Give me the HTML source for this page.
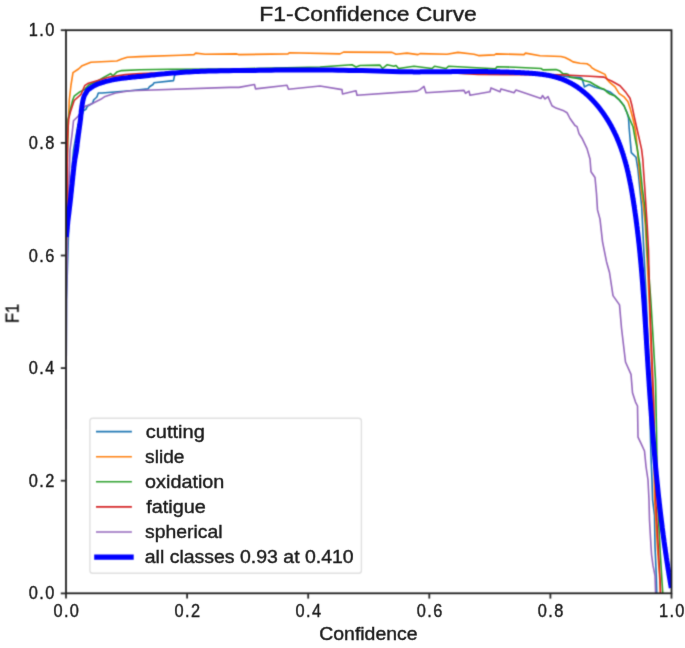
<!DOCTYPE html>
<html><head><meta charset="utf-8"><style>
html,body{margin:0;padding:0;background:#fff;width:685px;height:648px;overflow:hidden}
svg{display:block}
text{font-family:"Liberation Sans",sans-serif;fill:#1a1a1a;stroke:#1a1a1a;stroke-width:0.4px}
</style></head><body>
<svg width="685" height="648" viewBox="0 0 685 648">
<defs><filter id="bl" x="0" y="0" width="685" height="648" filterUnits="userSpaceOnUse" color-interpolation-filters="sRGB"><feConvolveMatrix order="3" kernelMatrix="0.02768 0.11101 0.02768 0.11101 0.44521 0.11101 0.02768 0.11101 0.02768" divisor="1" edgeMode="duplicate" preserveAlpha="false"/></filter><filter id="bt" x="0" y="0" width="685" height="648" filterUnits="userSpaceOnUse" color-interpolation-filters="sRGB"><feConvolveMatrix order="3" kernelMatrix="0.00276 0.04704 0.00276 0.04704 0.80077 0.04704 0.00276 0.04704 0.00276" divisor="1" edgeMode="none" preserveAlpha="false"/></filter><clipPath id="c"><rect x="66.0" y="30.2" width="605.5" height="563.1"/></clipPath></defs>
<g filter="url(#bl)">
<rect x="0" y="0" width="685" height="648" fill="#fff"/>
<g clip-path="url(#c)">
<polyline points="65.9,429.0 66.5,300.0 69.5,200.0 73.5,150.0 78.0,125.0 83.5,110.8 85.9,109.3 87.4,106.2 92.8,103.0 93.6,100.0 95.8,98.0 97.0,96.8 98.3,93.0 102.0,93.0 130.0,90.8 148.0,88.9 149.5,86.7 153.0,84.5 154.0,82.8 173.5,80.6 174.5,75.8 176.0,72.8 230.0,71.2 300.0,70.5 420.0,71.8 465.0,73.5 500.0,72.5 540.0,74.0 560.0,75.5 570.0,77.1 580.0,77.6 582.0,78.5 584.5,86.9 589.0,84.5 595.0,87.3 603.0,89.2 610.0,91.9 615.0,95.8 619.0,99.6 624.0,105.8 627.0,112.8 628.5,118.0 629.2,128.5 631.3,152.6 636.0,157.2 638.0,170.0 639.8,188.5 641.7,207.0 642.9,231.7 643.8,250.0 646.3,300.0 648.3,350.0 649.5,380.0 650.0,418.6 651.0,457.2 652.0,480.0 652.6,500.0 654.5,515.4 655.0,546.3 656.3,575.8 656.8,593.5" stroke="#1f77b4" stroke-width="1.6" fill="none" stroke-linejoin="round"/>
<polyline points="66.2,200.0 67.3,150.0 69.3,100.0 71.0,85.0 73.0,72.7 78.5,69.0 82.2,65.7 90.9,62.2 116.8,61.0 121.7,59.1 127.3,57.3 140.0,56.6 180.5,55.2 194.0,54.6 195.7,53.1 205.0,54.2 236.7,53.9 238.5,54.6 288.0,53.9 289.5,52.7 340.0,53.9 343.5,52.1 392.0,52.4 396.0,54.3 407.0,53.1 418.0,54.6 420.0,53.6 447.0,54.2 458.0,52.4 474.0,54.3 478.5,55.6 494.5,54.9 496.0,53.9 524.0,54.6 525.5,53.1 540.0,55.8 561.0,56.5 565.0,57.5 570.0,60.0 573.0,61.9 580.0,63.2 587.0,63.7 590.0,65.6 592.0,67.9 595.0,69.7 600.0,72.0 605.0,74.4 606.0,76.7 607.0,79.4 610.0,82.7 615.0,86.9 619.0,93.3 624.0,96.8 628.0,101.7 630.0,107.9 632.5,117.0 634.5,125.3 636.0,135.0 637.5,150.0 638.0,156.3 639.2,170.0 641.0,188.5 643.5,207.0 645.4,225.6 646.6,250.0 649.2,300.0 651.5,360.0 653.0,400.0 653.8,450.0 654.6,500.0 657.6,550.0 659.8,580.0 660.3,593.5" stroke="#ff7f0e" stroke-width="1.6" fill="none" stroke-linejoin="round"/>
<polyline points="66.2,220.0 68.0,120.0 69.3,114.0 72.7,100.0 74.2,96.2 79.8,91.9 84.7,89.4 89.6,84.4 97.0,81.4 103.2,77.7 110.6,73.6 113.0,75.8 116.8,72.1 121.7,70.6 140.0,69.8 170.0,69.2 230.0,69.0 320.0,67.0 352.0,64.8 356.0,67.0 360.0,65.5 380.0,65.1 382.5,68.5 387.0,64.8 394.0,66.3 396.0,65.5 398.5,68.5 414.0,66.3 432.0,68.5 434.5,66.3 446.0,68.5 448.5,66.3 495.5,68.8 497.0,66.7 515.0,67.2 541.0,68.5 543.0,69.9 556.0,69.6 560.0,71.1 563.0,73.9 566.0,73.9 568.0,74.3 570.0,77.1 575.0,78.0 580.0,79.0 585.0,80.8 590.0,82.0 595.0,85.0 600.0,87.8 604.0,89.2 607.0,92.0 610.0,94.0 615.0,96.1 619.0,99.6 624.0,105.8 627.0,112.8 630.0,119.7 633.0,126.7 635.0,137.8 637.0,147.5 639.8,164.2 640.4,170.0 642.3,188.5 644.8,207.0 646.0,225.6 647.2,250.0 651.0,303.3 653.5,345.0 655.5,380.0 656.5,431.0 657.5,500.0 660.1,550.0 661.9,580.0 662.8,593.5" stroke="#2ca02c" stroke-width="1.6" fill="none" stroke-linejoin="round"/>
<polyline points="66.0,240.0 67.4,200.0 67.4,140.0 68.6,119.0 70.4,112.0 74.2,100.5 81.0,94.3 84.7,85.7 88.4,83.2 97.0,80.7 109.4,77.0 125.4,74.6 140.0,73.6 225.0,70.6 300.0,70.0 420.0,71.0 478.0,74.5 505.0,74.8 540.0,74.5 560.0,74.8 590.0,76.2 604.0,77.1 608.0,79.4 612.0,81.3 620.0,85.7 626.0,92.6 630.0,98.2 632.0,105.8 634.0,115.6 636.5,126.7 639.0,137.8 641.6,149.4 642.8,159.3 643.5,170.0 644.8,188.5 646.0,207.0 647.2,225.6 648.5,250.0 649.6,300.0 652.0,359.0 653.7,400.0 654.8,450.0 655.8,500.0 658.4,550.0 660.1,580.0 660.6,593.5" stroke="#d62728" stroke-width="1.6" fill="none" stroke-linejoin="round"/>
<polyline points="65.9,429.0 66.5,300.0 67.5,236.0 70.0,150.0 72.0,134.7 73.5,120.8 78.1,116.2 85.1,106.2 90.9,104.2 100.7,99.3 104.4,96.8 115.6,93.0 130.0,90.8 230.0,87.4 239.0,87.4 254.5,84.5 255.5,88.9 287.0,85.3 288.5,89.3 320.0,86.0 342.0,89.6 342.5,94.0 356.0,90.8 357.0,95.2 417.0,91.1 420.0,89.6 424.0,86.4 426.0,92.8 464.0,90.4 465.5,93.3 469.0,91.1 470.0,95.2 490.0,91.8 491.0,87.9 500.0,91.8 501.0,88.9 514.0,92.8 516.0,90.1 541.0,98.5 542.5,95.5 545.0,99.0 548.0,96.6 552.0,105.8 556.0,108.1 563.0,110.4 567.0,112.7 570.0,118.5 575.0,125.5 577.0,126.6 579.0,133.6 582.0,138.2 587.0,148.6 590.0,159.0 591.0,171.7 595.0,177.5 596.5,193.7 597.5,209.9 600.0,219.1 602.5,241.6 606.5,261.7 609.5,272.5 613.0,295.6 619.5,304.9 621.5,328.0 625.5,362.0 631.0,374.3 632.5,392.8 635.5,402.1 637.5,406.0 638.0,437.1 641.0,443.3 644.5,451.0 646.0,466.5 648.0,480.0 649.0,500.0 649.5,520.0 651.0,546.3 651.6,555.0 653.0,565.4 655.0,575.8 655.6,593.5" stroke="#9467bd" stroke-width="1.6" fill="none" stroke-linejoin="round"/>
<polyline points="66.3,237.0 66.4,236.2 66.5,235.2 66.6,234.0 66.7,232.7 66.9,231.3 67.0,229.8 67.2,228.2 67.3,226.5 67.5,224.9 67.7,223.2 67.8,221.6 68.0,220.0 68.2,218.4 68.4,216.8 68.6,215.2 68.8,213.6 69.0,211.9 69.2,210.2 69.4,208.5 69.6,206.8 69.8,205.1 70.0,203.4 70.2,201.7 70.4,200.0 70.6,198.3 70.8,196.6 70.9,195.0 71.1,193.3 71.3,191.6 71.5,189.9 71.6,188.2 71.8,186.5 72.0,184.9 72.2,183.2 72.3,181.6 72.5,180.0 72.7,178.4 72.8,176.8 73.0,175.2 73.2,173.6 73.3,172.1 73.5,170.5 73.7,169.0 73.8,167.5 74.0,166.0 74.2,164.6 74.3,163.3 74.5,162.0 74.7,160.8 74.8,159.6 75.0,158.5 75.2,157.5 75.4,156.5 75.5,155.5 75.7,154.6 75.9,153.6 76.1,152.7 76.2,151.8 76.4,150.9 76.5,150.0 76.6,149.1 76.7,148.3 76.8,147.6 76.9,146.9 77.0,146.2 77.1,145.5 77.1,144.8 77.2,144.0 77.3,143.2 77.4,142.2 77.6,141.2 77.7,140.0 77.9,138.7 78.1,137.2 78.3,135.5 78.5,133.8 78.8,132.0 79.0,130.2 79.3,128.3 79.5,126.5 79.8,124.7 80.0,123.0 80.2,121.5 80.4,120.0 80.6,118.7 80.7,117.4 80.8,116.2 80.9,115.0 81.1,113.9 81.2,112.8 81.2,111.8 81.3,110.8 81.4,109.8 81.6,108.9 81.7,107.9 81.8,107.0 81.9,106.1 82.1,105.2 82.2,104.3 82.4,103.4 82.5,102.6 82.7,101.8 82.8,101.0 83.0,100.2 83.2,99.5 83.3,98.8 83.5,98.1 83.7,97.5 83.9,96.9 84.1,96.4 84.3,95.9 84.5,95.4 84.7,95.0 84.9,94.6 85.1,94.2 85.4,93.9 85.6,93.5 85.8,93.2 86.0,92.8 86.2,92.5 86.4,92.2 86.5,91.9 86.7,91.6 86.8,91.4 86.9,91.2 87.0,91.0 87.2,90.7 87.4,90.5 87.6,90.3 87.9,90.0 88.2,89.7 88.6,89.4 89.1,89.0 89.6,88.7 90.2,88.3 90.8,87.8 91.5,87.4 92.2,86.9 92.9,86.5 93.7,86.0 94.5,85.6 95.3,85.2 96.1,84.8 97.0,84.4 97.9,84.0 98.8,83.7 99.8,83.3 100.8,83.0 101.9,82.7 103.0,82.3 104.0,82.0 105.1,81.7 106.2,81.4 107.3,81.1 108.4,80.9 109.4,80.6 110.4,80.4 111.4,80.1 112.3,79.9 113.3,79.7 114.2,79.6 115.2,79.4 116.2,79.2 117.2,79.1 118.2,78.9 119.3,78.7 120.5,78.6 121.7,78.4 123.0,78.2 124.3,78.1 125.6,77.9 126.9,77.8 128.3,77.6 129.7,77.5 131.2,77.3 132.8,77.1 134.5,77.0 136.2,76.8 138.0,76.6 140.0,76.4 142.1,76.2 144.3,75.9 146.6,75.7 148.9,75.4 151.4,75.1 154.0,74.9 156.6,74.6 159.2,74.3 161.9,74.0 164.6,73.8 167.3,73.5 170.0,73.3 172.7,73.1 175.4,72.9 178.0,72.7 180.7,72.5 183.5,72.3 186.2,72.1 189.1,71.9 192.0,71.8 195.1,71.6 198.2,71.5 201.5,71.3 205.0,71.2 208.6,71.1 212.5,71.0 216.4,70.9 220.6,70.8 224.8,70.8 229.1,70.7 233.4,70.6 237.8,70.6 242.1,70.5 246.5,70.5 250.8,70.5 255.0,70.4 259.1,70.3 263.2,70.3 267.3,70.2 271.3,70.2 275.3,70.1 279.4,70.1 283.5,70.0 287.6,70.0 291.8,69.9 296.1,69.9 300.5,69.9 305.0,69.9 309.8,69.9 315.1,70.0 320.7,70.0 326.5,70.1 332.3,70.1 338.1,70.2 343.7,70.3 349.1,70.4 354.0,70.4 358.4,70.5 362.1,70.6 400.3,71.8 400.8,71.8 401.3,71.8 401.8,71.8 402.2,71.8 402.7,71.8 403.2,71.8 403.7,71.8 404.2,71.8 404.7,71.8 405.2,71.8 405.7,71.8 406.2,71.8 406.6,71.8 407.1,71.8 407.6,71.8 408.1,71.8 408.6,71.8 409.1,71.8 409.6,71.8 410.1,71.8 410.6,71.8 411.0,71.8 411.5,71.8 412.0,71.8 412.5,71.8 413.0,71.9 413.5,71.9 414.0,71.9 414.5,71.9 415.0,71.9 415.4,71.9 415.9,71.9 416.4,71.9 416.9,71.9 417.4,71.9 417.9,71.9 418.4,71.9 418.9,71.9 419.4,71.9 419.8,71.9 420.3,71.9 420.8,71.8 421.3,71.8 421.8,71.8 422.3,71.8 422.8,71.8 423.3,71.8 423.8,71.8 424.2,71.8 424.7,71.8 425.2,71.8 425.7,71.8 426.2,71.8 426.7,71.8 427.2,71.8 427.7,71.8 428.2,71.8 428.6,71.8 429.1,71.8 429.6,71.8 430.1,71.8 430.6,71.8 431.1,71.8 431.6,71.8 432.1,71.8 432.6,71.8 433.0,71.8 433.5,71.8 434.0,71.8 434.5,71.8 435.0,71.8 435.5,71.8 436.0,71.8 436.5,71.8 437.0,71.8 437.4,71.8 437.9,71.8 438.4,71.8 438.9,71.7 439.4,71.7 439.9,71.7 440.4,71.7 440.9,71.7 441.4,71.7 441.8,71.7 442.3,71.7 442.8,71.7 443.3,71.7 443.8,71.7 444.3,71.7 444.8,71.7 445.3,71.7 445.8,71.7 446.3,71.7 446.7,71.7 447.2,71.7 447.7,71.7 448.2,71.7 448.7,71.7 449.2,71.7 449.7,71.7 450.2,71.7 450.7,71.7 451.1,71.7 451.6,71.6 452.1,71.6 452.6,71.6 453.1,71.6 453.6,71.6 454.1,71.6 454.6,71.6 455.1,71.6 455.5,71.6 456.0,71.6 456.5,71.6 457.0,71.6 457.5,71.6 458.0,71.6 458.5,71.6 459.0,71.6 459.5,71.6 460.0,71.6 460.4,71.6 460.9,71.6 461.4,71.6 461.9,71.6 462.4,71.6 462.9,71.6 463.4,71.6 463.9,71.6 464.4,71.6 464.9,71.6 465.3,71.6 465.8,71.6 466.3,71.6 466.8,71.6 467.3,71.6 467.8,71.6 468.3,71.6 468.8,71.6 469.3,71.6 469.8,71.6 470.3,71.6 470.7,71.6 471.2,71.6 471.7,71.6 472.2,71.6 472.7,71.6 473.2,71.6 473.7,71.6 474.2,71.6 474.7,71.6 475.2,71.6 475.6,71.6 476.1,71.6 476.6,71.6 477.1,71.6 477.6,71.6 478.1,71.6 478.6,71.6 479.1,71.6 479.6,71.6 480.1,71.6 480.6,71.6 481.1,71.6 481.5,71.6 482.0,71.6 482.5,71.6 483.0,71.6 483.5,71.6 484.0,71.6 484.5,71.6 485.0,71.6 485.5,71.6 486.0,71.6 486.5,71.6 487.0,71.6 487.4,71.6 487.9,71.6 488.4,71.7 488.9,71.7 489.4,71.7 489.9,71.7 490.4,71.7 490.9,71.7 491.4,71.7 491.9,71.7 492.4,71.7 492.9,71.7 493.4,71.7 493.8,71.7 494.3,71.7 494.8,71.8 495.3,71.8 495.8,71.8 496.3,71.8 496.8,71.8 497.3,71.8 497.8,71.8 498.3,71.8 498.8,71.8 499.3,71.8 499.8,71.9 500.3,71.9 500.7,71.9 501.2,71.9 501.7,71.9 502.2,71.9 502.7,71.9 503.2,71.9 503.7,72.0 504.2,72.0 504.7,72.0 505.2,72.0 505.7,72.0 506.2,72.0 506.7,72.1 507.2,72.1 507.7,72.1 508.2,72.1 508.6,72.1 509.1,72.1 509.6,72.2 510.1,72.2 510.6,72.2 511.1,72.2 511.6,72.2 512.1,72.2 512.6,72.3 513.1,72.3 513.6,72.3 514.1,72.3 514.6,72.4 515.1,72.4 515.6,72.4 516.1,72.4 516.6,72.4 517.1,72.5 517.6,72.5 518.1,72.5 518.6,72.5 519.0,72.6 519.5,72.6 520.0,72.6 520.5,72.6 521.0,72.7 521.5,72.7 522.0,72.7 522.5,72.7 523.0,72.8 523.5,72.8 524.0,72.8 524.5,72.9 525.0,72.9 525.5,72.9 526.0,72.9 526.5,73.0 527.0,73.0 527.5,73.0 528.0,73.1 528.5,73.1 529.0,73.1 529.5,73.2 530.0,73.2 530.5,73.2 531.0,73.3 531.5,73.3 532.0,73.3 532.4,73.4 532.9,73.4 533.4,73.5 533.9,73.5 534.4,73.5 534.9,73.6 535.4,73.6 535.9,73.7 536.4,73.7 536.9,73.8 537.4,73.8 537.9,73.9 538.4,73.9 538.9,74.0 539.4,74.0 539.9,74.1 540.3,74.2 540.8,74.2 541.3,74.3 541.8,74.3 542.3,74.4 542.8,74.5 543.3,74.5 543.8,74.6 544.2,74.7 544.7,74.8 545.2,74.8 545.7,74.9 546.2,75.0 546.7,75.1 547.1,75.2 547.6,75.2 548.1,75.3 548.6,75.4 549.1,75.5 549.5,75.6 550.0,75.7 550.5,75.8 551.0,75.9 551.4,76.0 551.9,76.1 552.4,76.2 552.9,76.3 553.3,76.5 553.8,76.6 554.3,76.7 554.7,76.8 555.2,76.9 555.7,77.1 556.1,77.2 556.6,77.3 557.0,77.5 557.5,77.6 558.0,77.7 558.4,77.9 558.9,78.0 559.3,78.2 559.8,78.3 560.2,78.5 560.7,78.6 561.1,78.8 561.6,79.0 562.0,79.1 562.5,79.3 562.9,79.5 563.4,79.7 563.8,79.8 564.2,80.0 564.7,80.2 565.1,80.4 565.6,80.6 566.0,80.8 566.4,81.0 566.9,81.2 567.3,81.4 567.7,81.6 568.1,81.8 568.6,82.0 569.0,82.2 569.4,82.4 569.8,82.7 570.3,82.9 570.7,83.1 571.1,83.3 571.5,83.6 571.9,83.8 572.4,84.0 572.8,84.3 573.2,84.5 573.6,84.8 574.0,85.0 574.4,85.3 574.8,85.5 575.2,85.8 575.6,86.0 576.0,86.3 576.4,86.5 576.8,86.8 577.2,87.1 577.6,87.3 578.0,87.6 578.4,87.9 578.8,88.2 579.2,88.4 579.6,88.7 580.0,89.0 580.4,89.3 580.7,89.6 581.1,89.9 581.5,90.2 581.9,90.5 582.3,90.8 582.7,91.1 583.0,91.4 583.4,91.7 583.8,92.0 584.2,92.3 584.5,92.6 584.9,92.9 585.3,93.2 585.6,93.5 586.0,93.9 586.4,94.2 586.7,94.5 587.1,94.8 587.4,95.1 587.8,95.5 588.2,95.8 588.5,96.1 588.9,96.5 589.2,96.8 589.6,97.2 589.9,97.5 590.3,97.8 590.6,98.2 591.0,98.5 591.3,98.9 591.6,99.2 592.0,99.6 592.3,99.9 592.7,100.3 593.0,100.6 593.3,101.0 593.7,101.4 594.0,101.7 594.3,102.1 594.7,102.4 595.0,102.8 595.3,103.2 595.6,103.6 596.0,103.9 596.3,104.3 596.6,104.7 596.9,105.1 597.2,105.4 597.6,105.8 597.9,106.2 598.2,106.6 598.5,107.0 598.8,107.3 599.1,107.7 599.4,108.1 599.7,108.5 600.0,108.9 600.3,109.3 600.6,109.7 600.9,110.1 601.2,110.5 601.5,110.9 601.8,111.3 602.1,111.7 602.4,112.1 602.7,112.5 603.0,112.9 603.3,113.3 603.5,113.7 603.8,114.1 604.1,114.5 604.4,114.9 604.7,115.3 604.9,115.8 605.2,116.2 605.5,116.6 605.8,117.0 606.0,117.4 606.3,117.8 606.6,118.2 606.8,118.7 607.1,119.1 607.4,119.5 607.6,119.9 607.9,120.4 608.1,120.8 608.4,121.2 608.7,121.6 608.9,122.1 609.2,122.5 609.4,122.9 609.7,123.4 609.9,123.8 610.2,124.2 610.4,124.6 610.6,125.1 610.9,125.5 611.1,125.9 611.4,126.4 611.6,126.8 611.8,127.3 612.1,127.7 612.3,128.1 612.5,128.6 612.7,129.0 613.0,129.4 613.2,129.9 613.4,130.3 613.6,130.8 613.9,131.2 614.1,131.7 614.3,132.1 614.5,132.5 614.7,133.0 614.9,133.4 615.1,133.9 615.4,134.3 615.6,134.8 615.8,135.2 616.0,135.7 616.2,136.1 616.4,136.6 616.6,137.0 616.8,137.5 617.0,137.9 617.2,138.4 617.4,138.8 617.5,139.3 617.7,139.7 617.9,140.2 618.1,140.6 618.3,141.1 618.5,141.5 618.7,142.0 618.8,142.4 619.0,142.9 619.2,143.3 619.4,143.8 619.6,144.3 619.7,144.7 619.9,145.2 620.1,145.6 620.3,146.1 620.4,146.5 620.6,147.0 620.8,147.5 620.9,147.9 621.1,148.4 621.3,148.9 621.4,149.3 621.6,149.8 621.7,150.2 621.9,150.7 622.0,151.2 622.2,151.6 622.4,152.1 622.5,152.6 622.7,153.0 622.8,153.5 623.0,153.9 623.1,154.4 623.3,154.9 623.4,155.3 623.6,155.8 623.7,156.3 623.8,156.7 624.0,157.2 624.1,157.7 624.3,158.2 624.4,158.6 624.5,159.1 624.7,159.6 624.8,160.0 624.9,160.5 625.1,161.0 625.2,161.4 625.3,161.9 625.5,162.4 625.6,162.9 625.7,163.3 625.9,163.8 626.0,164.3 626.1,164.7 626.2,165.2 626.4,165.7 626.5,166.2 626.6,166.6 626.7,167.1 626.8,167.6 627.0,168.1 627.1,168.5 627.2,169.0 627.3,169.5 627.4,170.0 627.5,170.4 627.6,170.9 627.8,171.4 627.9,171.9 628.0,172.4 628.1,172.8 628.2,173.3 628.3,173.8 628.4,174.3 628.5,174.7 628.6,175.2 628.7,175.7 628.8,176.2 628.9,176.7 629.0,177.1 629.1,177.6 629.2,178.1 629.3,178.6 629.4,179.1 629.5,179.5 629.6,180.0 629.7,180.5 629.8,181.0 629.9,181.5 630.0,181.9 630.1,182.4 630.2,182.9 630.3,183.4 630.4,183.9 630.5,184.4 630.6,184.8 630.7,185.3 630.8,185.8 630.9,186.3 631.0,186.8 631.0,187.3 631.1,187.7 631.2,188.2 631.3,188.7 631.4,189.2 631.5,189.7 631.6,190.2 631.7,190.6 631.7,191.1 631.8,191.6 631.9,192.1 632.0,192.6 632.1,193.1 632.2,193.5 632.2,194.0 632.3,194.5 632.4,195.0 632.5,195.5 632.6,196.0 632.6,196.4 632.7,196.9 632.8,197.4 632.9,197.9 633.0,198.4 633.0,198.9 633.1,199.4 633.2,199.8 633.3,200.3 633.3,200.8 633.4,201.3 633.5,201.8 633.6,202.3 633.6,202.7 633.7,203.2 633.8,203.7 633.9,204.2 633.9,204.7 634.0,205.2 634.1,205.7 634.2,206.1 634.2,206.6 634.3,207.1 634.4,207.6 634.5,208.1 634.5,208.6 634.6,209.1 634.7,209.5 634.7,210.0 634.8,210.5 634.9,211.0 634.9,211.5 635.0,212.0 635.1,212.5 635.2,212.9 635.2,213.4 635.3,213.9 635.4,214.4 635.4,214.9 635.5,215.4 635.6,215.9 635.6,216.3 635.7,216.8 635.8,217.3 635.8,217.8 635.9,218.3 636.0,218.8 636.0,219.3 636.1,219.7 636.2,220.2 636.2,220.7 636.3,221.2 636.3,221.7 636.4,222.2 636.5,222.7 636.5,223.1 636.6,223.6 636.7,224.1 636.7,224.6 636.8,225.1 636.8,225.6 636.9,226.1 637.0,226.5 637.0,227.0 637.1,227.5 637.2,228.0 637.2,228.5 637.3,229.0 637.3,229.5 637.4,230.0 637.5,230.4 637.5,230.9 637.6,231.4 637.6,231.9 637.7,232.4 637.7,232.9 637.8,233.4 637.9,233.8 637.9,234.3 638.0,234.8 638.0,235.3 638.1,235.8 638.1,236.3 638.2,236.8 638.3,237.3 638.3,237.7 638.4,238.2 638.4,238.7 638.5,239.2 638.5,239.7 638.6,240.2 638.6,240.7 638.7,241.1 638.7,241.6 638.8,242.1 638.8,242.6 638.9,243.1 639.0,243.6 639.0,244.1 639.1,244.6 639.1,245.0 639.2,245.5 639.2,246.0 639.3,246.5 639.3,247.0 639.4,247.5 639.4,248.0 639.5,248.5 639.5,248.9 639.6,249.4 639.6,249.9 639.7,250.4 639.7,250.9 639.8,251.4 639.8,251.9 639.9,252.4 639.9,252.8 640.0,253.3 640.0,253.8 640.1,254.3 640.1,254.8 640.1,255.3 640.2,255.8 640.2,256.3 640.3,256.7 640.3,257.2 640.4,257.7 640.4,258.2 640.5,258.7 640.5,259.2 640.6,259.7 640.6,260.2 640.7,260.6 640.7,261.1 640.7,261.6 640.8,262.1 640.8,262.6 640.9,263.1 640.9,263.6 641.0,264.1 641.0,264.5 641.1,265.0 641.1,265.5 641.1,266.0 641.2,266.5 641.2,267.0 641.3,267.5 641.3,268.0 641.4,268.4 641.4,268.9 641.4,269.4 641.5,269.9 641.5,270.4 641.6,270.9 641.6,271.4 641.7,271.9 641.7,272.3 641.7,272.8 641.8,273.3 641.8,273.8 641.9,274.3 641.9,274.8 641.9,275.3 642.0,275.8 642.0,276.3 642.1,276.7 642.1,277.2 642.1,277.7 642.2,278.2 642.2,278.7 642.3,279.2 642.3,279.7 642.3,280.2 642.4,280.6 642.4,281.1 642.4,281.6 642.5,282.1 642.5,282.6 642.6,283.1 642.6,283.6 642.6,284.1 642.7,284.6 642.7,285.0 642.8,285.5 642.8,286.0 642.8,286.5 642.9,287.0 642.9,287.5 642.9,288.0 643.0,288.5 643.0,289.0 643.0,289.4 643.1,289.9 643.1,290.4 643.2,290.9 643.2,291.4 643.2,291.9 643.3,292.4 643.3,292.9 643.3,293.3 643.4,293.8 643.4,294.3 643.4,294.8 643.5,295.3 643.5,295.8 643.5,296.3 643.6,296.8 643.6,297.3 643.6,297.7 643.7,298.2 643.7,298.7 643.8,299.2 643.8,299.7 643.8,300.2 643.9,300.7 643.9,301.2 643.9,301.7 644.0,302.1 644.0,302.6 644.0,303.1 644.1,303.6 644.1,304.1 644.1,304.6 644.2,305.1 644.2,305.6 644.2,306.1 644.3,306.5 644.3,307.0 644.3,307.5 644.4,308.0 644.4,308.5 644.4,309.0 644.4,309.5 644.5,310.0 644.5,310.5 644.5,310.9 644.6,311.4 644.6,311.9 644.6,312.4 644.7,312.9 644.7,313.4 644.7,313.9 644.8,314.4 644.8,314.9 644.8,315.4 644.9,315.8 644.9,316.3 644.9,316.8 645.0,317.3 645.0,317.8 645.0,318.3 645.1,318.8 645.1,319.3 645.1,319.8 645.1,320.2 645.2,320.7 645.2,321.2 645.2,321.7 645.3,322.2 645.3,322.7 645.3,323.2 645.4,323.7 645.4,324.2 645.4,324.6 645.5,325.1 645.5,325.6 645.5,326.1 645.5,326.6 645.6,327.1 645.6,327.6 645.6,328.1 645.7,328.6 645.7,329.1 645.7,329.5 645.8,330.0 645.8,330.5 645.8,331.0 645.8,331.5 645.9,332.0 645.9,332.5 645.9,333.0 646.0,333.5 646.0,333.9 646.0,334.4 646.1,334.9 646.1,335.4 646.1,335.9 646.2,336.4 646.2,336.9 646.2,337.4 646.2,337.9 646.3,338.4 646.3,338.8 646.3,339.3 646.4,339.8 646.4,340.3 646.4,340.8 646.5,341.3 646.5,341.8 646.5,342.3 646.5,342.8 646.6,343.2 646.6,343.7 646.6,344.2 646.7,344.7 646.7,345.2 646.7,345.7 646.8,346.2 646.8,346.7 646.8,347.2 646.8,347.7 646.9,348.1 646.9,348.6 646.9,349.1 647.0,349.6 647.0,350.1 647.0,350.6 647.1,351.1 647.1,351.6 647.1,352.1 647.1,352.5 647.2,353.0 647.2,353.5 647.2,354.0 647.3,354.5 647.3,355.0 647.3,355.5 647.4,356.0 647.4,356.5 647.4,357.0 647.5,357.4 647.5,357.9 647.5,358.4 647.5,358.9 647.6,359.4 647.6,359.9 647.6,360.4 647.7,360.9 647.7,361.4 647.7,361.9 647.8,362.3 647.8,362.8 647.8,363.3 647.9,363.8 647.9,364.3 647.9,364.8 647.9,365.3 648.0,365.8 648.0,366.3 648.0,366.8 648.1,367.2 648.1,367.7 648.1,368.2 648.2,368.7 648.2,369.2 648.2,369.7 648.3,370.2 648.3,370.7 648.3,371.2 648.4,371.6 648.4,372.1 648.4,372.6 648.4,373.1 648.5,373.6 648.5,374.1 648.5,374.6 648.6,375.1 648.6,375.6 648.6,376.1 648.7,376.5 648.7,377.0 648.7,377.5 648.8,378.0 648.8,378.5 648.8,379.0 648.9,379.5 648.9,380.0 648.9,380.5 649.0,381.0 649.0,381.4 649.0,381.9 649.1,382.4 649.1,382.9 649.1,383.4 649.2,383.9 649.2,384.4 649.2,384.9 649.2,385.4 649.3,385.9 649.3,386.3 649.3,386.8 649.4,387.3 649.4,387.8 649.4,388.3 649.5,388.8 649.5,389.3 649.5,389.8 649.6,390.3 649.6,390.7 649.6,391.2 649.7,391.7 649.7,392.2 649.7,392.7 649.8,393.2 649.8,393.7 649.8,394.2 649.9,394.7 649.9,395.2 649.9,395.6 650.0,396.1 650.0,396.6 650.0,397.1 650.1,397.6 650.1,398.1 650.1,398.6 650.2,399.1 650.2,399.6 650.3,400.1 650.3,400.5 650.3,401.0 650.4,401.5 650.4,402.0 650.4,402.5 650.5,403.0 650.5,403.5 650.5,404.0 650.6,404.5 650.6,404.9 650.6,405.4 650.7,405.9 650.7,406.4 650.7,406.9 650.8,407.4 650.8,407.9 650.8,408.4 650.9,408.9 650.9,409.4 650.9,409.8 651.0,410.3 651.0,410.8 651.1,411.3 651.1,411.8 651.1,412.3 651.2,412.8 651.2,413.3 651.2,413.8 651.3,414.2 651.3,414.7 651.3,415.2 651.4,415.7 651.4,416.2 651.5,416.7 651.5,417.2 651.5,417.7 651.6,418.2 651.6,418.7 651.6,419.1 651.7,419.6 651.7,420.1 651.7,420.6 651.8,421.1 651.8,421.6 651.9,422.1 651.9,422.6 651.9,423.1 652.0,423.5 652.0,424.0 652.0,424.5 652.1,425.0 652.1,425.5 652.2,426.0 652.2,426.5 652.2,427.0 652.3,427.5 652.3,428.0 652.3,428.4 652.4,428.9 652.4,429.4 652.5,429.9 652.5,430.4 652.5,430.9 652.6,431.4 652.6,431.9 652.7,432.4 652.7,432.8 652.7,433.3 652.8,433.8 652.8,434.3 652.9,434.8 652.9,435.3 652.9,435.8 653.0,436.3 653.0,436.8 653.0,437.2 653.1,437.7 653.1,438.2 653.2,438.7 653.2,439.2 653.2,439.7 653.3,440.2 653.3,440.7 653.4,441.2 653.4,441.6 653.4,442.1 653.5,442.6 653.5,443.1 653.6,443.6 653.6,444.1 653.7,444.6 653.7,445.1 653.7,445.6 653.8,446.0 653.8,446.5 653.9,447.0 653.9,447.5 653.9,448.0 654.0,448.5 654.0,449.0 654.1,449.5 654.1,450.0 654.2,450.4 654.2,450.9 654.2,451.4 654.3,451.9 654.3,452.4 654.4,452.9 654.4,453.4 654.5,453.9 654.5,454.4 654.5,454.8 654.6,455.3 654.6,455.8 654.7,456.3 654.7,456.8 654.8,457.3 654.8,457.8 654.8,458.3 654.9,458.8 654.9,459.2 655.0,459.7 655.0,460.2 655.1,460.7 655.1,461.2 655.1,461.7 655.2,462.2 655.2,462.7 655.3,463.2 655.3,463.6 655.4,464.1 655.4,464.6 655.5,465.1 655.5,465.6 655.6,466.1 655.6,466.6 655.6,467.1 655.7,467.5 655.7,468.0 655.8,468.5 655.8,469.0 655.9,469.5 655.9,470.0 656.0,470.5 656.0,471.0 656.1,471.5 656.1,471.9 656.2,472.4 656.2,472.9 656.2,473.4 656.3,473.9 656.3,474.4 656.4,474.9 656.4,475.4 656.5,475.8 656.5,476.3 656.6,476.8 656.6,477.3 656.7,477.8 656.7,478.3 656.8,478.8 656.8,479.3 656.9,479.8 656.9,480.2 657.0,480.7 657.0,481.2 657.1,481.7 657.1,482.2 657.2,482.7 657.2,483.2 657.3,483.7 657.3,484.1 657.4,484.6 657.4,485.1 657.5,485.6 657.5,486.1 657.6,486.6 657.6,487.1 657.7,487.6 657.7,488.0 657.8,488.5 657.8,489.0 657.9,489.5 657.9,490.0 658.0,490.5 658.0,491.0 658.1,491.5 658.1,491.9 658.2,492.4 658.2,492.9 658.3,493.4 658.3,493.9 658.4,494.4 658.4,494.9 658.5,495.4 658.5,495.8 658.6,496.3 658.6,496.8 658.7,497.3 658.7,497.8 658.8,498.3 658.9,498.8 658.9,499.3 659.0,499.7 659.0,500.2 659.1,500.7 659.1,501.2 659.2,501.7 659.2,502.2 659.3,502.7 659.3,503.2 659.4,503.6 659.4,504.1 659.5,504.6 659.6,505.1 659.6,505.6 659.7,506.1 659.7,506.6 659.8,507.0 659.8,507.5 659.9,508.0 659.9,508.5 660.0,509.0 660.1,509.5 660.1,510.0 660.2,510.5 660.2,510.9 660.3,511.4 660.3,511.9 660.4,512.4 660.5,512.9 660.5,513.4 660.6,513.9 660.6,514.3 660.7,514.8 660.7,515.3 660.8,515.8 660.9,516.3 660.9,516.8 661.0,517.3 661.0,517.8 661.1,518.2 661.2,518.7 661.2,519.2 661.3,519.7 661.3,520.2 661.4,520.7 661.5,521.2 661.5,521.6 661.6,522.1 661.6,522.6 661.7,523.1 661.8,523.6 661.8,524.1 661.9,524.6 661.9,525.0 662.0,525.5 662.1,526.0 662.1,526.5 662.2,527.0 662.2,527.5 662.3,528.0 662.4,528.4 662.4,528.9 662.5,529.4 662.6,529.9 662.6,530.4 662.7,530.9 662.7,531.4 662.8,531.9 662.9,532.3 662.9,532.8 663.0,533.3 663.1,533.8 663.1,534.3 663.2,534.8 663.3,535.2 663.3,535.7 663.4,536.2 663.4,536.7 663.5,537.2 663.6,537.7 663.6,538.2 663.7,538.6 663.8,539.1 663.8,539.6 663.9,540.1 664.0,540.6 664.0,541.1 664.1,541.6 664.2,542.0 664.2,542.5 664.3,543.0 664.4,543.5 664.4,544.0 664.5,544.5 664.6,545.0 664.6,545.4 664.7,545.9 664.8,546.4 664.8,546.9 664.9,547.4 665.0,547.9 665.1,548.3 665.1,548.8 665.2,549.3 665.3,549.8 665.3,550.3 665.4,550.8 665.5,551.3 665.5,551.7 665.6,552.2 665.7,552.7 665.7,553.2 665.8,553.7 665.9,554.2 666.0,554.6 666.0,555.1 666.1,555.6 666.2,556.1 666.2,556.6 666.3,557.1 666.4,557.6 666.5,558.0 666.5,558.5 666.6,559.0 666.7,559.5 666.7,560.0 666.8,560.5 666.9,560.9 667.0,561.4 667.0,561.9 667.1,562.4 667.2,562.9 667.3,563.4 667.3,563.8 667.4,564.3 667.5,564.8 667.6,565.3 667.6,565.8 667.7,566.3 667.8,566.8 667.9,567.2 667.9,567.7 668.0,568.2 668.1,568.7 668.2,569.2 668.2,569.7 668.3,570.1 668.4,570.6 668.5,571.1 668.6,571.6 668.6,572.1 668.7,572.6 668.8,573.0 668.9,573.5 668.9,574.0 669.0,574.5 669.1,575.0 669.2,575.5 669.3,575.9 669.3,576.4 669.4,576.9 669.5,577.4 669.6,577.9 669.7,578.4 669.7,578.8 669.8,579.3 669.9,579.8 670.0,580.3 670.1,580.8 670.1,581.2 670.2,581.7 670.3,582.2 670.4,582.7 670.5,583.2 670.5,583.7 670.6,584.1 670.7,584.6 670.8,585.1 670.9,585.6 671.0,586.1 671.0,586.6 671.1,587.0 671.2,587.5 671.3,588.0" stroke="#0000ff" stroke-width="5.0" fill="none" stroke-linejoin="round"/>
</g>
<rect x="66.0" y="30.2" width="605.5" height="563.1" fill="none" stroke="#1e1e1e" stroke-width="1.8"/>
<g stroke="#2a2a2a" stroke-width="1.8">
<line x1="66.0" y1="593.4" x2="66.0" y2="598.6"/>
<line x1="60.8" y1="593.4" x2="66.0" y2="593.4"/>
<line x1="187.1" y1="593.4" x2="187.1" y2="598.6"/>
<line x1="60.8" y1="480.7" x2="66.0" y2="480.7"/>
<line x1="308.2" y1="593.4" x2="308.2" y2="598.6"/>
<line x1="60.8" y1="368.1" x2="66.0" y2="368.1"/>
<line x1="429.3" y1="593.4" x2="429.3" y2="598.6"/>
<line x1="60.8" y1="255.5" x2="66.0" y2="255.5"/>
<line x1="550.4" y1="593.4" x2="550.4" y2="598.6"/>
<line x1="60.8" y1="142.9" x2="66.0" y2="142.9"/>
<line x1="671.5" y1="593.4" x2="671.5" y2="598.6"/>
<line x1="60.8" y1="30.2" x2="66.0" y2="30.2"/>
</g>
<rect x="89.9" y="418.3" width="271.5" height="155" rx="2.8" ry="2.8" fill="#fff" fill-opacity="0.8" stroke="#e0e0e0" stroke-width="1.4"/>
<line x1="96.8" y1="431.6" x2="131.1" y2="431.6" stroke="#1f77b4" stroke-width="1.6" stroke-linecap="square"/>
<line x1="96.8" y1="456.7" x2="131.1" y2="456.7" stroke="#ff7f0e" stroke-width="1.6" stroke-linecap="square"/>
<line x1="96.8" y1="481.8" x2="131.1" y2="481.8" stroke="#2ca02c" stroke-width="1.6" stroke-linecap="square"/>
<line x1="96.8" y1="506.9" x2="131.1" y2="506.9" stroke="#d62728" stroke-width="1.6" stroke-linecap="square"/>
<line x1="96.8" y1="532.0" x2="131.1" y2="532.0" stroke="#9467bd" stroke-width="1.6" stroke-linecap="square"/>
<line x1="96.8" y1="557.1" x2="131.1" y2="557.1" stroke="#0000ff" stroke-width="5.2" stroke-linecap="square"/>
</g>
<g filter="url(#bt)">
<g font-size="17.6">
<text x="53.4" y="617.1" letter-spacing="1.5" transform="matrix(0.9300,0,0,1,3.74,0)">0.0</text>
<text x="28.8" y="599.5" letter-spacing="1.5" transform="matrix(0.9300,0,0,1,2.02,0)">0.0</text>
<text x="174.5" y="617.1" letter-spacing="1.5" transform="matrix(0.9300,0,0,1,12.22,0)">0.2</text>
<text x="28.8" y="486.8" letter-spacing="1.5" transform="matrix(0.9300,0,0,1,2.02,0)">0.2</text>
<text x="295.6" y="617.1" letter-spacing="1.5" transform="matrix(0.9300,0,0,1,20.69,0)">0.4</text>
<text x="28.8" y="374.2" letter-spacing="1.5" transform="matrix(0.9300,0,0,1,2.02,0)">0.4</text>
<text x="416.7" y="617.1" letter-spacing="1.5" transform="matrix(0.9300,0,0,1,29.17,0)">0.6</text>
<text x="28.8" y="261.6" letter-spacing="1.5" transform="matrix(0.9300,0,0,1,2.02,0)">0.6</text>
<text x="537.8" y="617.1" letter-spacing="1.5" transform="matrix(0.9300,0,0,1,37.65,0)">0.8</text>
<text x="28.8" y="149.0" letter-spacing="1.5" transform="matrix(0.9300,0,0,1,2.02,0)">0.8</text>
<text x="658.9" y="617.1" letter-spacing="1.5" transform="matrix(0.9300,0,0,1,46.12,0)">1.0</text>
<text x="28.8" y="36.4" letter-spacing="1.5" transform="matrix(0.9300,0,0,1,2.02,0)">1.0</text>
</g>
<text x="368.5" y="21" font-size="20.6" text-anchor="middle" transform="matrix(1.1109,0,0,1,-41.29,0)">F1-Confidence Curve</text>
<text x="368.5" y="640.4" font-size="18.2" text-anchor="middle" transform="matrix(1.0685,0,0,1,-25.31,0)">Confidence</text>
<text transform="translate(18.6,313.5) rotate(-90) scale(0.9,1)" font-size="18.2" text-anchor="middle">F1</text>
<g font-size="18.2">
<text x="145.5" y="437.8" transform="matrix(1.1020,0,0,1,-14.59,0)">cutting</text>
<text x="145.5" y="462.9" transform="matrix(1.0500,0,0,1,-7.65,0)">slide</text>
<text x="145.5" y="488.0" transform="matrix(1.0886,0,0,1,-13.32,0)">oxidation</text>
<text x="145.5" y="513.1" transform="matrix(1.0925,0,0,1,-12.80,0)">fatigue</text>
<text x="145.5" y="538.2" transform="matrix(1.0642,0,0,1,-9.73,0)">spherical</text>
<text x="145.5" y="563.3" transform="matrix(1.0703,0,0,1,-10.94,0)">all classes 0.93 at 0.410</text>
</g>
</g>
</svg>
</body></html>
